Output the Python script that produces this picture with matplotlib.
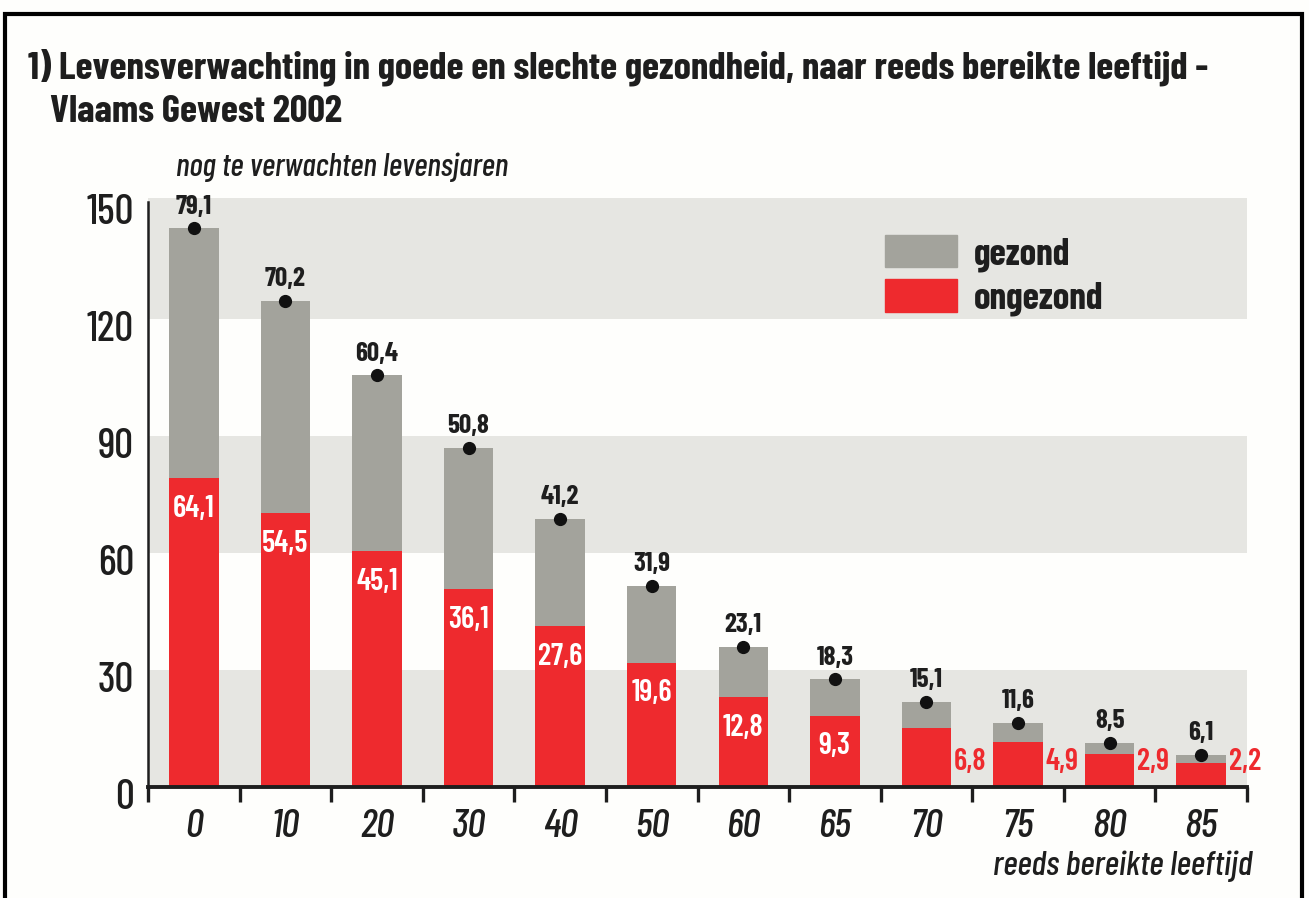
import matplotlib
matplotlib.use("Agg")
import matplotlib.pyplot as plt
import matplotlib.transforms as mtransforms
from matplotlib.patches import Patch, Rectangle

plt.rcParams['font.family'] = ['Barlow Condensed', 'DejaVu Sans']

# data
ages = ["0", "10", "20", "30", "40", "50", "60", "65", "70", "75", "80", "85"]
totaal = [79.1, 70.2, 60.4, 50.8, 41.2, 31.9, 23.1, 18.3, 15.1, 11.6, 8.5, 6.1]
gezond = [64.1, 54.5, 45.1, 36.1, 27.6, 19.6, 12.8, 9.3, 6.8, 4.9, 2.9, 2.2]
y_ticks = [0, 30, 60, 90, 120, 150]
gray_bands = [(0, 30), (60, 90), (120, 151)]

RED = "#ee2a2e"
GREY = "#a3a39c"
BAND = "#e6e6e2"
INK = "#1e1e1e"

W, H = 1309, 898
fig = plt.figure(figsize=(W / 100, H / 100), dpi=100)
fig.patch.set_facecolor("#fefefc")

# axes placed in pixel terms
left, right, bottom, top = 148, 1247, 787, 198
ax = fig.add_axes([left / W, 1 - bottom / H, (right - left) / W, (bottom - top) / H])
ax.set_facecolor("#fefefc")

x = list(range(len(ages)))
for lo, hi in gray_bands:
    ax.axhspan(lo, hi, color=BAND, lw=0, zorder=0)

bw = 0.54
ax.bar(x, totaal, width=bw, color=RED, zorder=2)
ax.bar(x, gezond, width=bw, bottom=totaal, color=GREY, zorder=2)

tops = [t + g for t, g in zip(totaal, gezond)]
ax.plot(x, tops, "o", color="#111111", ms=8.5, zorder=4)

for i in x:
    ax.annotate(f"{totaal[i]:.1f}".replace(".", ","), (i, tops[i]), xytext=(0, 7),
                textcoords="offset points", ha="center", va="bottom",
                fontsize=19.5, fontweight="bold", color=INK, zorder=5)
    lab = f"{gezond[i]:.1f}".replace(".", ",")
    if i < 8:
        ax.annotate(lab, (i, totaal[i]), xytext=(0, -12), textcoords="offset points",
                    ha="center", va="top", fontsize=22, fontweight="semibold",
                    color="white", zorder=5)
    else:
        ax.text(i + bw / 2 + 0.03, 6.5, lab, ha="left", va="center", fontsize=22,
                fontweight="semibold", color=RED, zorder=5)

ax.set_xlim(-0.5, len(ages) - 0.5)
ax.set_ylim(0, 151)
ax.set_yticks(y_ticks)
ax.set_yticklabels([str(v) for v in y_ticks], fontsize=30, fontweight="medium", color=INK)
ax.set_xticks(x)
ax.set_xticklabels(ages, fontsize=29, style="italic", fontweight="medium", color=INK)
ax.set_xticks([i - 0.5 for i in range(len(ages) + 1)], minor=True)
ax.tick_params(axis="x", which="major", length=0, pad=16)
ax.tick_params(axis="x", which="minor", length=11, width=2.4, color=INK, direction="out")
ax.tick_params(axis="y", length=0, pad=10)
# y labels sit a little below their gridline in the original
shift = mtransforms.ScaledTranslation(0, -7 / 100, fig.dpi_scale_trans)
for t in ax.get_yticklabels():
    t.set_transform(t.get_transform() + shift)

for s in ["top", "right"]:
    ax.spines[s].set_visible(False)
ax.spines["left"].set_bounds(0, 150)
ax.spines["left"].set_linewidth(1.8)
ax.spines["bottom"].set_linewidth(2.8)
for s in ["left", "bottom"]:
    ax.spines[s].set_color(INK)

handles = [Patch(color=GREY, label="gezond"), Patch(color=RED, label="ongezond")]
leg = ax.legend(handles=handles, loc="upper left", bbox_to_anchor=(0.671, 0.937),
                frameon=False, fontsize=27, handlelength=1.9, handleheight=0.95,
                labelspacing=0.2, borderpad=0, borderaxespad=0, handletextpad=0.45)
for t in leg.get_texts():
    t.set_fontweight("bold")
    t.set_color(INK)

# titles and axis captions
fig.text(28 / W, 1 - 78 / H, "1) Levensverwachting in goede en slechte gezondheid, naar reeds bereikte leeftijd -",
         fontsize=28, fontweight="bold", color=INK, va="baseline", ha="left")
fig.text(50 / W, 1 - 122 / H, "Vlaams Gewest 2002",
         fontsize=28, fontweight="bold", color=INK, va="baseline", ha="left")
fig.text(176 / W, 1 - 176 / H, "nog te verwachten levensjaren",
         fontsize=23, style="italic", fontweight="medium", color=INK, va="baseline", ha="left")
fig.text(1252 / W, 1 - 875 / H, "reeds bereikte leeftijd",
         fontsize=25, style="italic", fontweight="medium", color=INK, va="baseline", ha="right")

# outer frame
fig.patches.append(Rectangle((5 / W, -0.02), 1297 / W, 1.02 - 14 / H, transform=fig.transFigure,
                             fill=False, ec="black", lw=3))

fig.savefig("out.png", dpi=100, facecolor=fig.get_facecolor())
